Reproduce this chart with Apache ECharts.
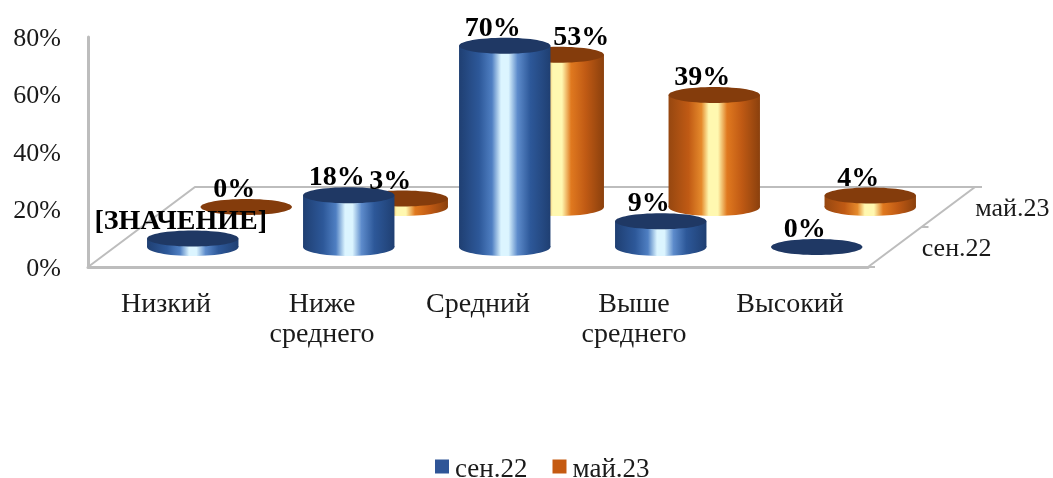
<!DOCTYPE html>
<html>
<head>
<meta charset="utf-8">
<style>
  html, body { margin: 0; background: #fff; }
  #chart { width: 1053px; height: 478px; }
</style>
<script src="https://cdn.jsdelivr.net/npm/echarts@6/dist/echarts.min.js"></script>
</head>
<body>
<div id="chart"></div>
<script>
const categories = ['Низкий', 'Ниже\nсреднего', 'Средний', 'Выше\nсреднего', 'Высокий'];
const yTicks = [0, 20, 40, 60, 80];
const sep22 = [3, 18, 70, 9, 0];
const may23 = [0, 3, 53, 39, 4];
const sep22Labels = ['[ЗНАЧЕНИЕ]', '18%', '70%', '9%', '0%'];
const may23Labels = ['0%', '3%', '53%', '39%', '4%'];
const depthNames = ['сен.22', 'май.23'];

const FONT = '"Liberation Serif", "Times New Roman", serif';
// the fake 3D floor: how far the back edge sits from the front edge
const DEPTH_X = 107;
const DEPTH_Y = -80;
const ROW = [0.25, 0.75];

const blueBody = {
  type: 'linear', x: 0, y: 0, x2: 1, y2: 0,
  colorStops: [
    { offset: 0, color: '#1f3f72' },
    { offset: 0.22, color: '#2d5899' },
    { offset: 0.36, color: '#4f7fc2' },
    { offset: 0.46, color: '#dcf5ff' },
    { offset: 0.54, color: '#dcf5ff' },
    { offset: 0.64, color: '#5d8bcb' },
    { offset: 0.78, color: '#2d5899' },
    { offset: 1, color: '#1f3f72' }
  ]
};
const orangeBody = {
  type: 'linear', x: 0, y: 0, x2: 1, y2: 0,
  colorStops: [
    { offset: 0, color: '#964710' },
    { offset: 0.22, color: '#c05a14' },
    { offset: 0.36, color: '#e58a2c' },
    { offset: 0.44, color: '#fff8b0' },
    { offset: 0.54, color: '#fff8b0' },
    { offset: 0.64, color: '#e0791f' },
    { offset: 0.8, color: '#c05a14' },
    { offset: 1, color: '#8a400d' }
  ]
};

function cylinder(row, body, lid) {
  return function (params, api) {
    const p = api.coord([api.value(0), api.value(1)]);
    const base = api.coord([api.value(0), 0]);
    const dx = DEPTH_X * ROW[row];
    const dy = DEPTH_Y * ROW[row];
    const rx = api.size([1, 0])[0] * 0.293;
    const cx = p[0] + dx;
    const topY = p[1] + dy;
    const baseY = base[1] + dy;
    const children = [];
    if (baseY - topY > 0.5) {
      children.push({
        type: 'ellipse',
        shape: { cx: cx, cy: baseY, rx: rx, ry: 9 },
        style: { fill: body }
      });
      children.push({
        type: 'rect',
        shape: { x: cx - rx, y: topY, width: rx * 2, height: baseY - topY },
        style: { fill: body }
      });
    }
    children.push({
      type: 'ellipse',
      shape: { cx: cx, cy: topY, rx: rx, ry: 8 },
      style: { fill: lid }
    });
    return { type: 'group', children: children };
  };
}

function labelRender(row, texts) {
  return function (params, api) {
    const p = api.coord([api.value(0), api.value(1)]);
    const text = texts[params.dataIndex];
    // the 53% label was pushed to the right of the tall front bar in the original
    const shift = text === '53%' ? 23 : -12;
    return {
      type: 'text',
      style: {
        text: text,
        x: p[0] + DEPTH_X * ROW[row] + shift,
        y: p[1] + DEPTH_Y * ROW[row] - 17,
        align: 'center',
        verticalAlign: 'middle',
        font: 'bold 28px ' + FONT,
        fill: '#000'
      }
    };
  };
}

function floorRender(params, api) {
  const half = api.size([1, 0])[0] / 2;
  const a = api.coord([0, 0]);
  const b = api.coord([categories.length - 1, 0]);
  const left = a[0] - half;
  const right = b[0] + half;
  const y = a[1];
  const line = { stroke: '#bdbdbd', lineWidth: 2, fill: null };
  const children = [{
    type: 'polyline',
    shape: { points: [
      [left, y],
      [left + DEPTH_X, y + DEPTH_Y],
      [right + DEPTH_X, y + DEPTH_Y],
      [right, y]
    ] },
    style: line
  }];
  // small ticks of the depth axis
  [0, 0.5, 1].forEach(function (t) {
    const tx = right + DEPTH_X * t;
    const ty = y + DEPTH_Y * t;
    children.push({ type: 'line', shape: { x1: tx, y1: ty, x2: tx + 7, y2: ty }, style: line });
  });
  depthNames.forEach(function (name, i) {
    children.push({
      type: 'text',
      style: {
        text: name,
        x: right + DEPTH_X * ROW[i] + 27,
        y: y + DEPTH_Y * ROW[i] + 2,
        align: 'left',
        verticalAlign: 'middle',
        font: '26px ' + FONT,
        fill: '#1a1a1a'
      }
    });
  });
  return { type: 'group', children: children };
}

const points = (values) => values.map((v, i) => [i, v]);

const myChart = echarts.init(document.getElementById('chart'), null, { renderer: 'canvas' });
myChart.setOption({
  animation: false,
  backgroundColor: '#fff',
  grid: { left: 88, top: 37, width: 780, height: 230 },
  legend: {
    data: depthNames,
    left: 430,
    top: 451,
    icon: 'rect',
    itemWidth: 14,
    itemHeight: 14,
    itemGap: 25,
    formatter: '{a|{name}}',
    textStyle: {
      rich: { a: { fontFamily: FONT, fontSize: 27, color: '#1a1a1a', padding: [6, 0, 0, 1] } }
    }
  },
  xAxis: {
    type: 'category',
    data: categories,
    axisTick: { show: false },
    axisLine: { lineStyle: { color: '#bdbdbd', width: 3 } },
    axisLabel: {
      fontFamily: FONT,
      fontSize: 28,
      lineHeight: 30,
      color: '#1a1a1a',
      margin: 23,
      interval: 0
    }
  },
  yAxis: {
    type: 'value',
    min: yTicks[0],
    max: yTicks[yTicks.length - 1],
    interval: yTicks[1] - yTicks[0],
    splitLine: { show: false },
    axisTick: { show: false },
    axisLine: { show: true, lineStyle: { color: '#bdbdbd', width: 3 } },
    axisLabel: {
      formatter: '{a|{value}%}',
      margin: 27,
      rich: { a: { fontFamily: FONT, fontSize: 26, color: '#1a1a1a', padding: [4, 0, 0, 0] } }
    }
  },
  series: [
    { type: 'custom', silent: true, z: 1, data: [[0, 0]], renderItem: floorRender, clip: false },
    {
      type: 'custom', name: depthNames[1], z: 2, clip: false,
      itemStyle: { color: '#c55a11' },
      data: points(may23),
      renderItem: cylinder(1, orangeBody, '#843c0c')
    },
    {
      type: 'custom', name: depthNames[0], z: 3, clip: false,
      itemStyle: { color: '#2f5597' },
      data: points(sep22),
      renderItem: cylinder(0, blueBody, '#1f3864')
    },
    { type: 'custom', silent: true, z: 4, clip: false, data: points(may23), renderItem: labelRender(1, may23Labels) },
    { type: 'custom', silent: true, z: 5, clip: false, data: points(sep22), renderItem: labelRender(0, sep22Labels) }
  ]
});
</script>
</body>
</html>
